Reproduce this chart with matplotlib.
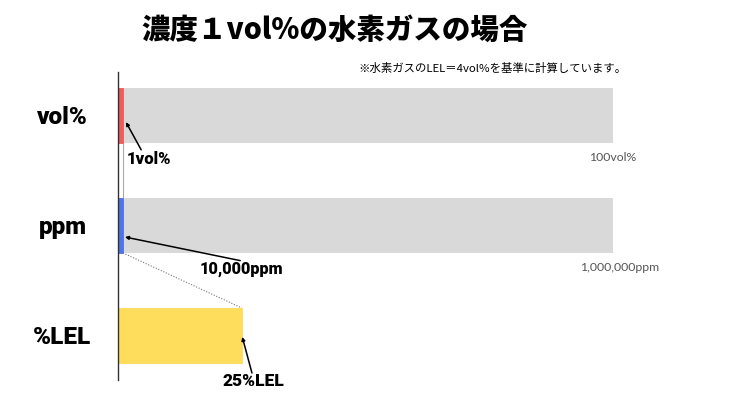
import matplotlib.pyplot as plt

plt.rcParams['font.family'] = ['Noto Sans CJK JP', 'DejaVu Sans']

title = '濃度１vol%の水素ガスの場合'
note = '※水素ガスのLEL＝4vol%を基準に計算しています。'
categories = ['vol%', 'ppm', '%LEL']
# share of the full bar (percent of the scale)
values = [1, 1, 25]
full_scale = [100, 100, None]
value_labels = ['1vol%', '10,000ppm', '25%LEL']
full_labels = ['100vol%', '1,000,000ppm', None]
colors = ['#ee5c5c', '#4f73e8', '#fedc5c']
GRAY = '#d9d9d9'
BOLD = ['Roboto', 'Liberation Sans', 'DejaVu Sans']

fig = plt.figure(figsize=(7.5, 4), dpi=100)
# x: 0..100 -> 118..613 px, y axis spans 72..380 px
ax = fig.add_axes([118 / 750, 1 - 380 / 400, 495 / 750, 308 / 400])
ax.set_xlim(0, 100)
ax.set_ylim(2.405, -0.395)

ypos = list(range(len(categories)))
bh = 0.5
for i, (v, full) in enumerate(zip(values, full_scale)):
    if full is not None:
        ax.barh(i, full, height=bh, color=GRAY, left=0, zorder=1)
    ax.barh(i, v, height=bh, color=colors[i], left=0, zorder=2, lw=0.6, edgecolor=colors[i])

# connector: thin line from vol% bar to ppm bar
ax.plot([values[0], values[1]], [0 + bh / 2, 1 - bh / 2], color='#aaaaaa', lw=0.8, zorder=0)
# dotted line from ppm bar to LEL bar
ax.plot([values[1], values[2]], [1 + bh / 2, 2 - bh / 2], color='#777777', lw=0.8,
        ls=(0, (1, 1.5)), zorder=0)

# annotations with arrows (offsets in points)
arrow = dict(arrowstyle='-|>', color='black', lw=1.1, mutation_scale=5,
             shrinkA=0, shrinkB=0)
text_offsets = [(3, -31), (55, -31), (-14, -33)]
heads = [(1.6, 0.06), (1.4, 1.105), (25.1, 2.013)]
tail_offsets = [(11, -20), (83, -17), (7, -26)]
label_sizes = [12, 11.7, 12.5]
for i, lab in enumerate(value_labels):
    ax.annotate(lab, xy=(values[i], i), xytext=text_offsets[i], textcoords='offset points',
                fontsize=label_sizes[i], fontweight='heavy', ha='left', va='center',
                family=BOLD)
    ax.annotate('', xy=heads[i], xytext=tail_offsets[i], textcoords='offset points',
                arrowprops=arrow)

full_dx = [0, 5]
for i, lab in enumerate(full_labels):
    if lab is None:
        continue
    ax.annotate(lab, xy=(full_scale[i], i + bh / 2), xytext=(full_dx[i], -10.5),
                textcoords='offset points', fontsize=8.8, color='#555555',
                ha='center', va='center', family=['Lato', 'DejaVu Sans'])

ax.set_yticks(ypos)
ax.set_yticklabels(categories, fontsize=17.5, fontweight='heavy', family=BOLD, ha='center')
ax.tick_params(axis='y', length=0, pad=40)
ax.set_xticks([])
for s in ['top', 'right', 'bottom']:
    ax.spines[s].set_visible(False)
ax.spines['left'].set_color('#333333')
ax.spines['left'].set_linewidth(1)

fig.text(334 / 750, 1 - 30 / 400, title, fontsize=20.5, fontweight='heavy',
         ha='center', va='center')
fig.text(492 / 750, 1 - 68 / 400, note, fontsize=8.2, ha='center', va='center')

fig.savefig('out.png', dpi=100)
